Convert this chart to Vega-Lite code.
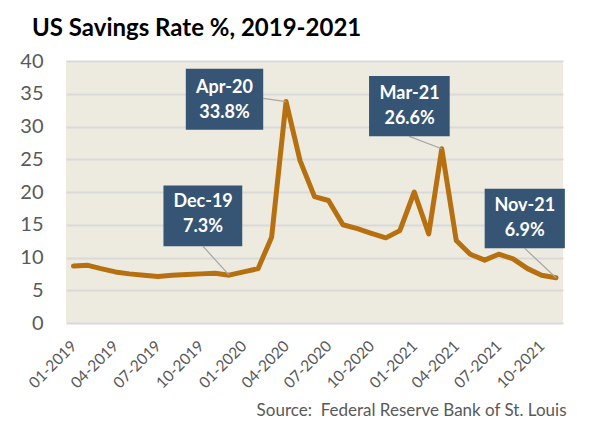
{
  "$schema": "https://vega.github.io/schema/vega-lite/v6.json",
  "width": 497,
  "height": 262,
  "autosize": {"type": "none"},
  "padding": {"left": 66, "top": 61, "right": 26, "bottom": 98},
  "background": "white",
  "title": {
    "text": "US Savings Rate %, 2019-2021",
    "anchor": "start",
    "frame": "group",
    "baseline": "alphabetic",
    "offset": 26,
    "dx": -34,
    "dy": 35,
    "font": "Lato",
    "fontSize": 24,
    "fontWeight": "bold",
    "color": "#000000"
  },
  "datasets": {
    "rate": [
      {"date": "2019/01/01", "rate": 8.7},
      {"date": "2019/02/01", "rate": 8.8},
      {"date": "2019/03/01", "rate": 8.3},
      {"date": "2019/04/01", "rate": 7.8},
      {"date": "2019/05/01", "rate": 7.5},
      {"date": "2019/06/01", "rate": 7.3},
      {"date": "2019/07/01", "rate": 7.1},
      {"date": "2019/08/01", "rate": 7.3},
      {"date": "2019/09/01", "rate": 7.4},
      {"date": "2019/10/01", "rate": 7.5},
      {"date": "2019/11/01", "rate": 7.6},
      {"date": "2019/12/01", "rate": 7.3},
      {"date": "2020/01/01", "rate": 7.8},
      {"date": "2020/02/01", "rate": 8.3},
      {"date": "2020/03/01", "rate": 13.1},
      {"date": "2020/04/01", "rate": 33.8},
      {"date": "2020/05/01", "rate": 24.8},
      {"date": "2020/06/01", "rate": 19.3},
      {"date": "2020/07/01", "rate": 18.7},
      {"date": "2020/08/01", "rate": 15.0},
      {"date": "2020/09/01", "rate": 14.4},
      {"date": "2020/10/01", "rate": 13.7},
      {"date": "2020/11/01", "rate": 13.0},
      {"date": "2020/12/01", "rate": 14.1},
      {"date": "2021/01/01", "rate": 20.0},
      {"date": "2021/02/01", "rate": 13.6},
      {"date": "2021/03/01", "rate": 26.6},
      {"date": "2021/04/01", "rate": 12.6},
      {"date": "2021/05/01", "rate": 10.5},
      {"date": "2021/06/01", "rate": 9.6},
      {"date": "2021/07/01", "rate": 10.5},
      {"date": "2021/08/01", "rate": 9.8},
      {"date": "2021/09/01", "rate": 8.3},
      {"date": "2021/10/01", "rate": 7.3},
      {"date": "2021/11/01", "rate": 6.9}
    ],
    "notes": [
      {"label": "Apr-20\n33.8%", "bx1": "2019/08/30", "bx2": "2020/02/12", "by1": 38.8, "by2": 29.5, "tx": "2019/11/21", "ty": 35.9, "lx1": "2020/02/12", "ly1": 34.3, "lx2": "2020/04/01", "ly2": 33.8},
      {"label": "Dec-19\n7.3%", "bx1": "2019/07/13", "bx2": "2019/12/29", "by1": 21.0, "by2": 11.7, "tx": "2019/10/06", "ty": 18.4, "lx1": "2019/10/06", "ly1": 11.7, "lx2": "2019/12/01", "ly2": 7.3},
      {"label": "Mar-21\n26.6%", "bx1": "2020/09/26", "bx2": "2021/03/18", "by1": 37.7, "by2": 28.5, "tx": "2020/12/22", "ty": 35.0, "lx1": "2020/12/21", "ly1": 28.5, "lx2": "2021/03/01", "ly2": 26.6},
      {"label": "Nov-21\n6.9%", "bx1": "2021/06/01", "bx2": "2021/11/20", "by1": 20.5, "by2": 11.4, "tx": "2021/08/26", "ty": 17.8, "lx1": "2021/08/26", "ly1": 11.4, "lx2": "2021/11/01", "ly2": 6.9}
    ]
  },
  "layer": [
    {
      "data": {"name": "rate"},
      "mark": {"type": "line", "color": "#B7700F", "strokeWidth": 5, "strokeJoin": "round", "strokeCap": "round"},
      "encoding": {
        "x": {
          "field": "date",
          "type": "temporal",
          "scale": {"domain": [{"year": 2018, "month": 12, "date": 16}, {"year": 2021, "month": 11, "date": 16}]},
          "axis": {
            "values": [
              {"year": 2019, "month": 1, "date": 1}, {"year": 2019, "month": 4, "date": 1},
              {"year": 2019, "month": 7, "date": 1}, {"year": 2019, "month": 10, "date": 1},
              {"year": 2020, "month": 1, "date": 1}, {"year": 2020, "month": 4, "date": 1},
              {"year": 2020, "month": 7, "date": 1}, {"year": 2020, "month": 10, "date": 1},
              {"year": 2021, "month": 1, "date": 1}, {"year": 2021, "month": 4, "date": 1},
              {"year": 2021, "month": 7, "date": 1}, {"year": 2021, "month": 10, "date": 1}
            ],
            "format": "%m-%Y",
            "labelAngle": -45,
            "labelAlign": "right",
            "labelBaseline": "middle",
            "labelPadding": 20,
            "labelFontSize": 15.5,
            "labelOverlap": false,
            "grid": false,
            "title": "Source:\u00a0 Federal Reserve Bank of St. Louis",
            "titleFont": "Lato",
            "titleFontSize": 17,
            "titleFontWeight": "normal",
            "titleColor": "#595959",
            "titleAlign": "right",
            "titleBaseline": "middle",
            "titleX": 500,
            "titleY": 87
          }
        },
        "y": {
          "field": "rate",
          "type": "quantitative",
          "scale": {"domain": [0, 40], "nice": false, "zero": true},
          "axis": {
            "values": [0, 5, 10, 15, 20, 25, 30, 35, 40],
            "labelFontSize": 20,
            "labelPadding": 23,
            "labelOverlap": false,
            "grid": true,
            "gridColor": "#D9D9D9",
            "gridWidth": 2,
            "title": null
          }
        }
      }
    },
    {
      "data": {"name": "notes"},
      "mark": {"type": "rule", "color": "#A6A6A6", "strokeWidth": 1.2},
      "encoding": {
        "x": {
          "field": "lx1",
          "type": "temporal",
          "axis": {
            "values": [
              {"year": 2019, "month": 1, "date": 1}, {"year": 2019, "month": 4, "date": 1},
              {"year": 2019, "month": 7, "date": 1}, {"year": 2019, "month": 10, "date": 1},
              {"year": 2020, "month": 1, "date": 1}, {"year": 2020, "month": 4, "date": 1},
              {"year": 2020, "month": 7, "date": 1}, {"year": 2020, "month": 10, "date": 1},
              {"year": 2021, "month": 1, "date": 1}, {"year": 2021, "month": 4, "date": 1},
              {"year": 2021, "month": 7, "date": 1}, {"year": 2021, "month": 10, "date": 1}
            ],
            "format": "%m-%Y",
            "title": "Source:\u00a0 Federal Reserve Bank of St. Louis",
            "titleX": 500,
            "titleY": 87
          }
        },
        "x2": {"field": "lx2"},
        "y": {
          "field": "ly1",
          "type": "quantitative",
          "axis": {"values": [0, 5, 10, 15, 20, 25, 30, 35, 40], "title": null}
        },
        "y2": {"field": "ly2"}
      }
    },
    {
      "data": {"name": "notes"},
      "mark": {"type": "rect", "color": "#365574"},
      "encoding": {
        "x": {
          "field": "bx1",
          "type": "temporal",
          "axis": {
            "values": [
              {"year": 2019, "month": 1, "date": 1}, {"year": 2019, "month": 4, "date": 1},
              {"year": 2019, "month": 7, "date": 1}, {"year": 2019, "month": 10, "date": 1},
              {"year": 2020, "month": 1, "date": 1}, {"year": 2020, "month": 4, "date": 1},
              {"year": 2020, "month": 7, "date": 1}, {"year": 2020, "month": 10, "date": 1},
              {"year": 2021, "month": 1, "date": 1}, {"year": 2021, "month": 4, "date": 1},
              {"year": 2021, "month": 7, "date": 1}, {"year": 2021, "month": 10, "date": 1}
            ],
            "format": "%m-%Y",
            "title": "Source:\u00a0 Federal Reserve Bank of St. Louis",
            "titleX": 500,
            "titleY": 87
          }
        },
        "x2": {"field": "bx2"},
        "y": {
          "field": "by1",
          "type": "quantitative",
          "axis": {"values": [0, 5, 10, 15, 20, 25, 30, 35, 40], "title": null}
        },
        "y2": {"field": "by2"}
      }
    },
    {
      "data": {"name": "notes"},
      "mark": {"type": "text", "color": "white", "font": "Lato", "fontSize": 18, "fontWeight": "bold", "lineBreak": "\n", "lineHeight": 25, "align": "center", "baseline": "middle"},
      "encoding": {
        "x": {
          "field": "tx",
          "type": "temporal",
          "axis": {
            "values": [
              {"year": 2019, "month": 1, "date": 1}, {"year": 2019, "month": 4, "date": 1},
              {"year": 2019, "month": 7, "date": 1}, {"year": 2019, "month": 10, "date": 1},
              {"year": 2020, "month": 1, "date": 1}, {"year": 2020, "month": 4, "date": 1},
              {"year": 2020, "month": 7, "date": 1}, {"year": 2020, "month": 10, "date": 1},
              {"year": 2021, "month": 1, "date": 1}, {"year": 2021, "month": 4, "date": 1},
              {"year": 2021, "month": 7, "date": 1}, {"year": 2021, "month": 10, "date": 1}
            ],
            "format": "%m-%Y",
            "title": "Source:\u00a0 Federal Reserve Bank of St. Louis",
            "titleX": 500,
            "titleY": 87
          }
        },
        "y": {
          "field": "ty",
          "type": "quantitative",
          "axis": {"values": [0, 5, 10, 15, 20, 25, 30, 35, 40], "title": null}
        },
        "text": {"field": "label"}
      }
    }
  ],
  "config": {
    "view": {"fill": "#EDEAE0", "stroke": null},
    "axis": {"labelFont": "Lato", "labelColor": "#595959", "domain": false, "ticks": false}
  }
}
